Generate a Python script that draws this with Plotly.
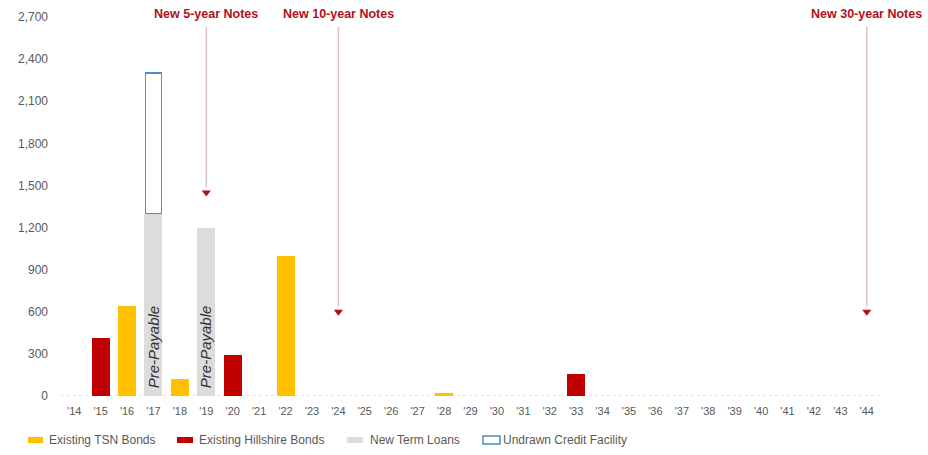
import plotly.graph_objects as go

# Maturity years shown on the category axis
years = ["'%02d" % y for y in range(14, 45)]

# Amounts by maturity year (millions)
tsn_bonds = {"'16": 640, "'18": 120, "'22": 1000, "'28": 18}
hillshire_bonds = {"'15": 410, "'20": 290, "'33": 160}
term_loans = {"'17": 1300, "'19": 1200}
undrawn_credit = {"'17": 1000}

# Arrows marking the new note maturities: (label, year, arrow tip value)
new_notes = [("New 5-year Notes", "'19", 1450),
             ("New 10-year Notes", "'24", 600),
             ("New 30-year Notes", "'44", 600)]
prepayable_years = ["'17", "'19"]

y_ticks = list(range(0, 2701, 300))

YELLOW = "#FFC000"
RED = "#C00000"
GRAY = "#DCDCDC"
BLUE = "#4A8FCC"
DARKRED = "#B0121B"
TEXT = "#595959"

# Plot-area geometry in pixels (used for the hand-drawn legend row)
W, H = 928, 455
L, R, T, B = 61, 48, 17, 59
PW, PH = W - L - R, H - T - B


def px(x):
    return (x - L) / PW


def py(y):
    return (H - B - y) / PH


def series(d):
    return [d.get(y) for y in years]


fig = go.Figure()
fig.add_bar(x=years, y=series(tsn_bonds), name="Existing TSN Bonds",
            marker=dict(color=YELLOW, line=dict(width=0)), width=0.68)
fig.add_bar(x=years, y=series(hillshire_bonds), name="Existing Hillshire Bonds",
            marker=dict(color=RED, line=dict(width=0)), width=0.68)
fig.add_bar(x=years, y=series(term_loans), name="New Term Loans",
            marker=dict(color=GRAY, line=dict(width=0)), width=0.68)
fig.add_bar(x=years, y=series(undrawn_credit), name="Undrawn Credit Facility",
            marker=dict(color="rgba(255,255,255,0)", line=dict(color=BLUE, width=1.5)),
            width=0.62)

# Dotted baseline
fig.add_shape(type="line", xref="paper", yref="y", x0=0, x1=1, y0=0, y1=0,
              line=dict(color="#C8C8C8", width=1, dash="dot"), layer="below")

# Note maturity arrows
tip_x, tip_y = [], []
for label, yr, tip in new_notes:
    fig.add_shape(type="line", xref="x", yref="y", x0=yr, x1=yr, y0=2630, y1=tip + 40,
                  line=dict(color="#D8C4C8", width=1.5))
    fig.add_annotation(x=yr, y=py(14), xref="x", yref="paper", yanchor="middle",
                       text="<b>%s</b>" % label, showarrow=False,
                       font=dict(family="Liberation Sans, Arial", size=12.5, color=DARKRED))
    tip_x.append(yr)
    tip_y.append(tip)
fig.add_scatter(x=tip_x, y=tip_y, mode="markers", showlegend=False, hoverinfo="skip",
                marker=dict(symbol="triangle-down", size=8, color=DARKRED))

for yr in prepayable_years:
    fig.add_annotation(x=yr, y=40, xref="x", yref="y", yanchor="bottom",
                       text="<i>Pre-Payable</i>", textangle=-90, showarrow=False,
                       font=dict(family="Liberation Sans, Arial", size=15, color="#333333"))

# Legend row
legend_items = [
    ("Existing TSN Bonds", 28, 43, 48, dict(fillcolor=YELLOW, line=dict(width=0))),
    ("Existing Hillshire Bonds", 177, 193, 198, dict(fillcolor=RED, line=dict(width=0))),
    ("New Term Loans", 347, 363, 369, dict(fillcolor=GRAY, line=dict(width=0))),
    ("Undrawn Credit Facility", 483, 500, 502, dict(fillcolor="white", line=dict(color=BLUE, width=1.5))),
]
for text, sx0, sx1, tx, style in legend_items:
    tall = style["fillcolor"] == "white"
    fig.add_shape(type="rect", xref="paper", yref="paper",
                  x0=px(sx0), x1=px(sx1),
                  y0=py(444 if tall else 443), y1=py(436 if tall else 437), **style)
    fig.add_annotation(x=px(tx), y=py(440), xref="paper", yref="paper",
                       xanchor="left", yanchor="middle", text=text, showarrow=False,
                       borderpad=0,
                       font=dict(family="Liberation Sans, Arial", size=12, color=TEXT))

fig.update_layout(
    width=W, height=H,
    margin=dict(l=L, r=R, t=T, b=B, autoexpand=False),
    barmode="stack",
    plot_bgcolor="white", paper_bgcolor="white",
    font=dict(family="Liberation Sans, Arial", color=TEXT),
    showlegend=False,
    xaxis=dict(type="category", categoryorder="array", categoryarray=years,
               range=[-0.5, len(years) - 0.5], showgrid=False, showline=False,
               zeroline=False, ticks="", ticklabelstandoff=7,
               tickfont=dict(size=11, color=TEXT)),
    yaxis=dict(range=[0, 2700], tickvals=y_ticks, tickformat=",", showgrid=False,
               showline=False, zeroline=False, ticks="", ticklabelstandoff=12,
               tickfont=dict(size=12, color=TEXT)),
)

fig.write_html("out.html")
